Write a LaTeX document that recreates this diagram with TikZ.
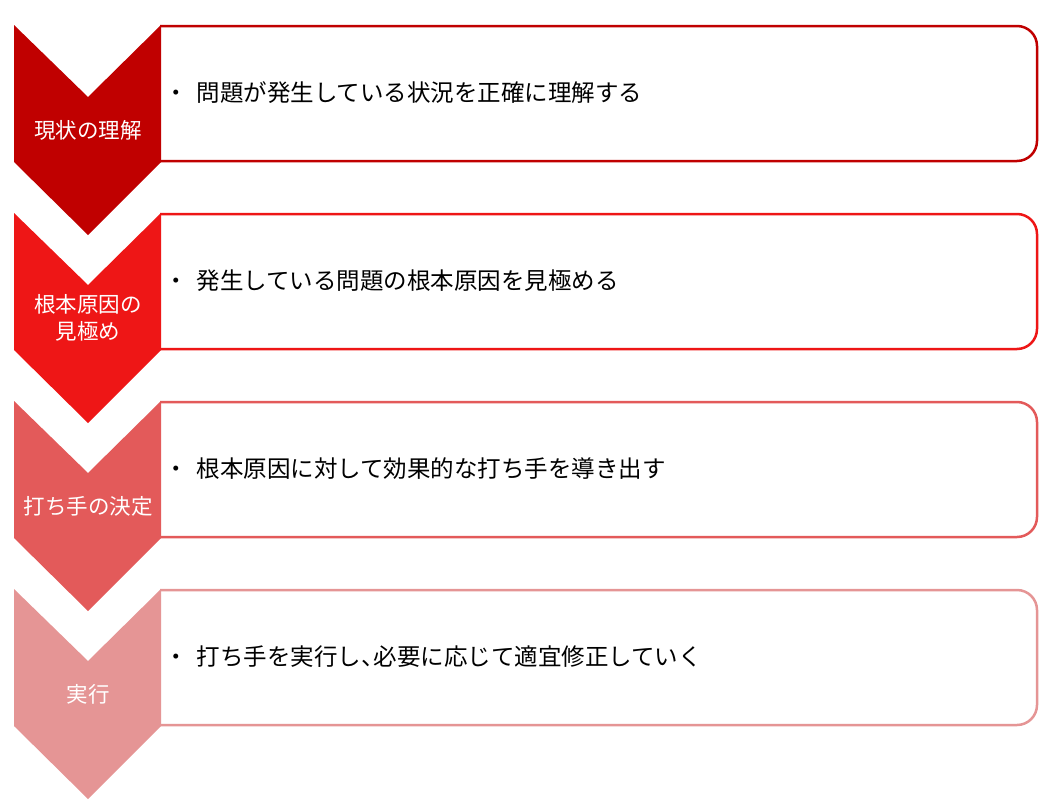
\documentclass[tikz,border=0pt]{standalone}
\usepackage{fontspec}
\setmainfont{Noto Sans CJK JP}
\definecolor{cA}{HTML}{C00000}
\definecolor{cB}{HTML}{EE1616}
\definecolor{cC}{HTML}{E35A5A}
\definecolor{cD}{HTML}{E59595}
\tikzset{
  stepbox/.style={draw=#1, line width=2.5pt, fill=white, rounded corners=20pt},
  chev/.style={fill=#1, draw=none},
  lbl/.style={text=white, font=\fontsize{21.5}{27}\selectfont, align=center},
  txt/.style={text=black, font=\fontsize{23.5}{28}\selectfont, anchor=west, inner sep=0pt}
}
\newcommand{\stage}[5]{% top, color, name, label, text
  \draw[stepbox=#2] (160,#1+1) -- (1037,#1+1) -- (1037,#1+136) -- (160,#1+136);
  \fill[chev=#2] (14,#1) -- (88,#1+72) -- (161,#1) -- (161,#1+137) -- (88,#1+210) -- (14,#1+137) -- cycle;
  \node[lbl] (#3lbl) at (88,#1+105) {#4};
  \node[txt] (#3txt) at (164,#1+68) {・\hspace{9pt}#5};
}
\begin{document}
\begin{tikzpicture}[x=1pt,y=-1pt]
\useasboundingbox (0,0) rectangle (1050,806);
\stage{25}{cA}{s1}{現状の理解}{問題が発生している状況を正確に理解する}
\stage{213}{cB}{s2}{根本原因の\\見極め}{発生している問題の根本原因を見極める}
\stage{401}{cC}{s3}{打ち手の決定}{根本原因に対して効果的な打ち手を導き出す}
\stage{589}{cD}{s4}{実行}{打ち手を実行し、\hspace{-11pt}必要に応じて適宜修正していく}
\end{tikzpicture}
\end{document}
